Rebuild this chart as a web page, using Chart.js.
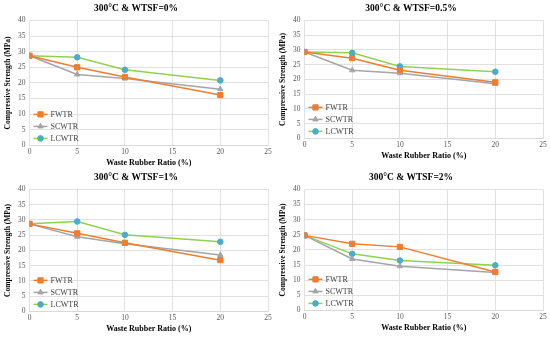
<!DOCTYPE html>
<html><head><meta charset="utf-8">
<script src="https://cdn.jsdelivr.net/npm/chart.js@4"></script>
<style>
html,body{margin:0;padding:0;background:#fff;}
#wrap{position:relative;width:550px;height:338px;}
.p{position:absolute;width:275px;height:169px;}
</style></head><body>
<div id="wrap">
<div class="p" style="left:0;top:0"><canvas id="c0" width="275" height="169"></canvas></div>
<div class="p" style="left:275px;top:0"><canvas id="c1" width="275" height="169"></canvas></div>
<div class="p" style="left:0;top:169px"><canvas id="c2" width="275" height="169"></canvas></div>
<div class="p" style="left:275px;top:169px"><canvas id="c3" width="275" height="169"></canvas></div>
</div>
<script>
const ratios = [0, 5, 10, 20];
const titles = ["300°C & WTSF=0%", "300°C & WTSF=0.5%", "300°C & WTSF=1%", "300°C & WTSF=2%"];
const seriesNames = ["FWTR", "SCWTR", "LCWTR"];
const fwtr  = [[28.7, 25.0, 21.9, 16.1], [29.3, 27.2, 23.1, 19.0], [28.7, 25.6, 22.5, 16.8], [24.8, 22.0, 21.0, 12.7]];
const scwtr = [[28.7, 22.7, 21.4, 18.0], [29.3, 23.1, 22.1, 18.5], [28.7, 24.5, 22.2, 18.5], [24.8, 17.0, 14.6, 12.5]];
const lcwtr = [[28.7, 28.2, 24.2, 20.8], [29.3, 29.0, 24.4, 22.6], [28.7, 29.5, 25.1, 22.8], [24.8, 18.7, 16.5, 14.9]];
const xTicks = [0, 5, 10, 15, 20, 25];
const yTicks = [0, 5, 10, 15, 20, 25, 30, 35, 40];

const bottomPad = [1, 8, 4, 5];

const styles = [
  {line:'#ED7D31', fill:'#ED7D31', pt:'rect', r:3.7},
  {line:'#A5A5A5', fill:'#A5A5A5', pt:'triangle', r:3.1},
  {line:'#92D050', fill:'#4BACC6', pt:'circle', r:2.8}
];

const legendPlugin = {
  id:'innerLegend',
  afterDatasetsDraw(chart){
    const ctx = chart.ctx, a = chart.chartArea;
    const offs = [31, 19, 7];
    chart.data.datasets.forEach((ds, i) => {
      const y = a.bottom - offs[i];
      const x0 = a.left + 4, x1 = a.left + 18;
      ctx.save();
      ctx.strokeStyle = ds.borderColor; ctx.lineWidth = 1.5;
      ctx.beginPath(); ctx.moveTo(x0, y); ctx.lineTo(x1, y); ctx.stroke();
      ctx.fillStyle = ds.pointBackgroundColor; ctx.strokeStyle = ds.pointBorderColor; ctx.lineWidth = 1;
      Chart.helpers.drawPoint(ctx, {pointStyle: ds.pointStyle, radius: ds.pointRadius, borderWidth: 1, rotation:0}, (x0+x1)/2, y);
      ctx.fillStyle = '#404040';
      ctx.font = '8px "Liberation Serif"';
      ctx.textBaseline = 'middle';
      ctx.fillText(ds.label, x1 + 3, y + 0.5);
      ctx.restore();
    });
  }
};

function make(idx){
  const sets = [fwtr[idx], scwtr[idx], lcwtr[idx]];
  const datasets = sets.map((vals, i) => ({
    label: seriesNames[i],
    data: ratios.map((r, k) => ({x:r, y:vals[k]})),
    borderColor: styles[i].line,
    backgroundColor: styles[i].fill,
    pointBackgroundColor: styles[i].fill,
    pointBorderColor: styles[i].fill,
    pointStyle: styles[i].pt,
    pointRadius: styles[i].r,
    pointBorderWidth: 1,
    borderWidth: 1.5,
    tension: 0,
    fill: false
  }));
  new Chart(document.getElementById('c'+idx), {
    type:'line',
    data:{datasets},
    plugins:[legendPlugin],
    options:{
      responsive:false, animation:false, devicePixelRatio:1,
      layout:{padding:{left:4, right:7, top:0, bottom:bottomPad[idx]}},
      plugins:{
        legend:{display:false},
        tooltip:{enabled:false},
        title:{display:true, text:titles[idx], color:'#000',
          font:{family:'"Liberation Serif"', size:9.5, weight:'bold'}, padding:{top:3, bottom:6}}
      },
      scales:{
        x:{type:'linear', min:0, max:25,
          afterBuildTicks(s){ s.ticks = xTicks.map(v=>({value:v})); },
          grid:{color:'#D9D9D9', lineWidth:0.8, drawTicks:false},
          border:{display:true, color:'#D9D9D9'},
          ticks:{color:'#595959', font:{family:'"Liberation Serif"', size:7.5}, padding:2, maxRotation:0},
          title:{display:true, text:'Waste Rubber Ratio (%)', color:'#000',
            font:{family:'"Liberation Serif"', size:8, weight:'bold'}, padding:{top:0, bottom:0}}
        },
        y:{min:0, max:40,
          afterBuildTicks(s){ s.ticks = yTicks.map(v=>({value:v})); },
          grid:{color:'#D9D9D9', lineWidth:0.8, drawTicks:false},
          border:{display:false},
          ticks:{color:'#595959', font:{family:'"Liberation Serif"', size:7.5}, padding:4},
          title:{display:true, text:'Compressive Strength (MPa)', color:'#000',
            font:{family:'"Liberation Serif"', size:7.5, weight:'bold'}, padding:{top:0, bottom:1}}
        }
      }
    }
  });
}
[0,1,2,3].forEach(make);
</script>
</body></html>
